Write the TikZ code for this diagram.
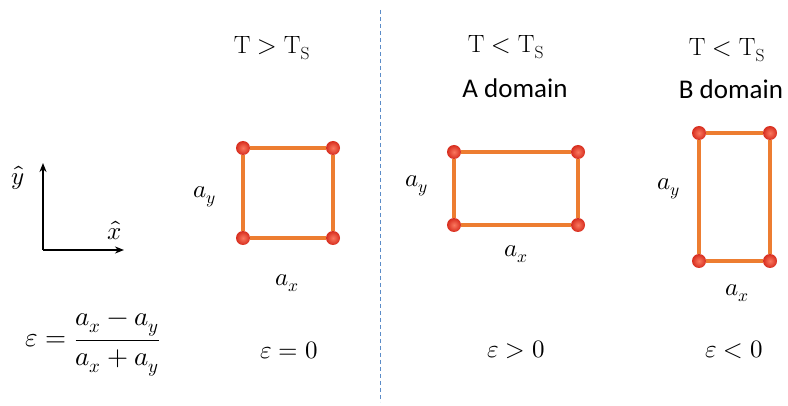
\documentclass[tikz,border=0pt]{standalone}
\usepackage{amsmath}
\usepackage{unicode-math}
\setmathfont{Latin Modern Math}
\newfontfamily\calib{Carlito}
\usetikzlibrary{arrows.meta}
\definecolor{bondc}{RGB}{237,125,49}
\definecolor{atomin}{RGB}{250,120,95}
\definecolor{atomout}{RGB}{215,45,30}
\definecolor{dashc}{RGB}{91,140,200}
\tikzset{
  atom/.style={circle,inner sep=0pt,minimum size=14pt,inner color=atomin,outer color=atomout},
  bond/.style={draw=bondc,line width=3.2pt},
  lbl/.style={inner sep=0pt,font=\fontsize{25}{30}\selectfont},
  biglbl/.style={inner sep=0pt,font=\fontsize{27}{32}\selectfont},
  sanslbl/.style={inner sep=0pt,font=\calib\fontsize{27}{32}\selectfont},
  axis/.style={line width=2pt,-{Stealth[length=9pt,width=7pt]}}
}
\begin{document}
\begin{tikzpicture}[x=1pt,y=-1pt]
\useasboundingbox (0,0) rectangle (788,406);
% divider
\coordinate (d1) at (380,10);
\coordinate (d2) at (380,402);
\draw[dashc,line width=0.9pt,dash pattern=on 4pt off 3pt] (d1) -- (d2);
% axes
\coordinate (o) at (43,250);
\coordinate (yt) at (43,163);
\coordinate (xt) at (124,250);
\draw[axis] (o) -- (yt);
\draw[axis] (o) -- (xt);
\node[lbl] (yhat) at (18,178) {$\hat{y}$};
\node[lbl] (xhat) at (115,230) {$\hat{x}$};
\node[biglbl] (eps) at (93,345) {$\varepsilon=\dfrac{a_x-a_y}{a_x+a_y}$};
% panel 1
\node[lbl] (t1) at (272,48) {$\mathrm{T} > \mathrm{T}_{\mathrm{S}}$};
\node[atom] (p1a) at (243,148) {};
\node[atom] (p1b) at (333,148) {};
\node[atom] (p1c) at (333,238) {};
\node[atom] (p1d) at (243,238) {};
\draw[bond] (p1a) -- (p1b);
\draw[bond] (p1b) -- (p1c);
\draw[bond] (p1c) -- (p1d);
\draw[bond] (p1d) -- (p1a);
\node[lbl] (ay1) at (205,197) {$a_y$};
\node[lbl] (ax1) at (287,283) {$a_x$};
\node[lbl] (e1) at (289,350) {$\varepsilon=0$};
% panel 2
\node[lbl] (t2) at (506,47) {$\mathrm{T} < \mathrm{T}_{\mathrm{S}}$};
\node[sanslbl] (dA) at (515,88) {A domain};
\node[atom] (p2a) at (454,152) {};
\node[atom] (p2b) at (578,152) {};
\node[atom] (p2c) at (578,225) {};
\node[atom] (p2d) at (454,225) {};
\draw[bond] (p2a) -- (p2b);
\draw[bond] (p2b) -- (p2c);
\draw[bond] (p2c) -- (p2d);
\draw[bond] (p2d) -- (p2a);
\node[lbl] (ay2) at (417,186) {$a_y$};
\node[lbl] (ax2) at (516,254) {$a_x$};
\node[lbl] (e2) at (516,350) {$\varepsilon>0$};
% panel 3
\node[lbl] (t3) at (727,50) {$\mathrm{T} < \mathrm{T}_{\mathrm{S}}$};
\node[sanslbl] (dB) at (731,89) {B domain};
\node[atom] (p3a) at (699,133) {};
\node[atom] (p3b) at (770,133) {};
\node[atom] (p3c) at (770,261) {};
\node[atom] (p3d) at (699,261) {};
\draw[bond] (p3a) -- (p3b);
\draw[bond] (p3b) -- (p3c);
\draw[bond] (p3c) -- (p3d);
\draw[bond] (p3d) -- (p3a);
\node[lbl] (ay3) at (669,189) {$a_y$};
\node[lbl] (ax3) at (737,293) {$a_x$};
\node[lbl] (e3) at (734,350) {$\varepsilon<0$};
\end{tikzpicture}
\end{document}
